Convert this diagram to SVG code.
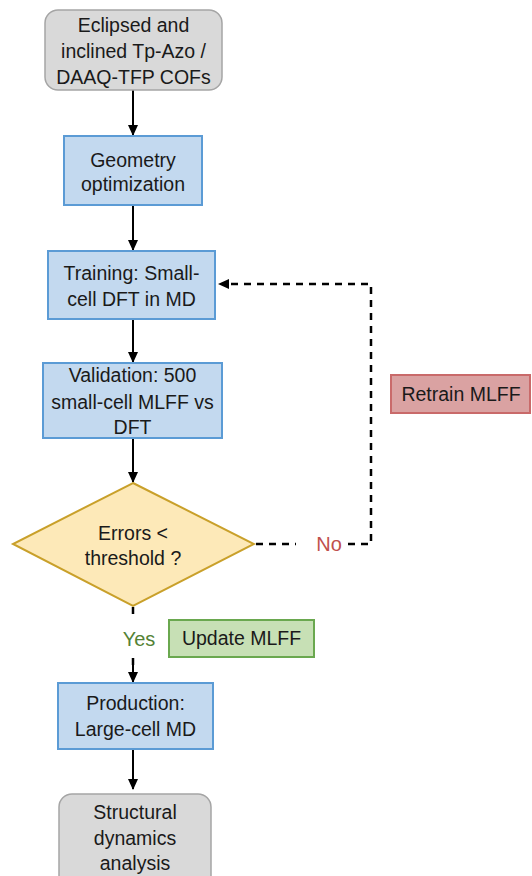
<svg xmlns="http://www.w3.org/2000/svg" width="532" height="876" viewBox="0 0 532 876">
<style>
text{font-family:"Liberation Sans","Open Sans",Arial,sans-serif;font-size:19.5px;fill:#1a1a1a;text-anchor:middle}
.gray{fill:#d9d9d9;stroke:#a5a5a5;stroke-width:1.5}
.blue{fill:#c3d9ef;stroke:#5b9bd5;stroke-width:2}
.dia{fill:#fde9b8;stroke:#c9a02a;stroke-width:2}
.red{fill:#daa2a2;stroke:#c96a6a;stroke-width:2}
.green{fill:#c7e0b5;stroke:#6aa84f;stroke-width:2}
.solid{stroke:#000;stroke-width:2;fill:none}
.dash{stroke:#000;stroke-width:2.5;fill:none;stroke-dasharray:7 6}
</style>
<defs>
<marker id="ah" markerWidth="11" markerHeight="10" refX="10" refY="5" orient="auto" markerUnits="userSpaceOnUse">
<path d="M0,0 L11,5 L0,10 z" fill="#000"/>
</marker>
</defs>
<rect width="532" height="876" fill="#fff"/>
<g id="connectors">
<line class="solid" x1="133" y1="90" x2="133" y2="135" marker-end="url(#ah)"/>
<line class="solid" x1="133" y1="205" x2="133" y2="250" marker-end="url(#ah)"/>
<line class="solid" x1="133" y1="319" x2="133" y2="362" marker-end="url(#ah)"/>
<line class="solid" x1="133" y1="438" x2="133" y2="482" marker-end="url(#ah)"/>
<polyline class="dash" points="256,544 296,544"/>
<polyline class="dash" points="348,544 371,544 371,284 226,284"/>
<path d="M218,284 L229,279 L229,289 z" fill="#000"/>
<line class="dash" x1="133" y1="607" x2="133" y2="620"/>
<line class="dash" x1="133" y1="658" x2="133" y2="669"/>
<line class="solid" x1="133" y1="665" x2="133" y2="682" marker-end="url(#ah)"/>
<line class="solid" x1="133" y1="749" x2="133" y2="789" marker-end="url(#ah)"/>
<text x="329" y="551" style="fill:#c0504d;font-size:20px">No</text>
<text x="139" y="646" style="fill:#548235;font-size:20px">Yes</text>
</g>
<g id="start">
<rect class="gray" x="45" y="10" width="177" height="80" rx="13"/>
<text x="133.5" y="32">Eclipsed and</text>
<text x="133.5" y="58">inclined Tp-Azo /</text>
<text x="133.5" y="84">DAAQ-TFP COFs</text>
</g>
<g id="geometry">
<rect class="blue" x="64" y="136" width="138" height="69"/>
<text x="133" y="167">Geometry</text>
<text x="133" y="191">optimization</text>
</g>
<g id="training">
<rect class="blue" x="48" y="251" width="167" height="68"/>
<text x="131.5" y="280">Training: Small-</text>
<text x="131.5" y="306">cell DFT in MD</text>
</g>
<g id="validation">
<rect class="blue" x="43" y="363" width="179" height="75"/>
<text x="132.5" y="382">Validation: 500</text>
<text x="132.5" y="409">small-cell MLFF vs</text>
<text x="132.5" y="434">DFT</text>
</g>
<g id="decision">
<polygon class="dia" points="133,483 254,544 133,606 13,544"/>
<text x="133" y="540">Errors &lt;</text>
<text x="133" y="565">threshold ?</text>
</g>
<g id="retrain">
<rect class="red" x="391" y="375" width="139" height="38"/>
<text x="461" y="401">Retrain MLFF</text>
</g>
<g id="update">
<rect class="green" x="169" y="620" width="145" height="37"/>
<text x="241.5" y="645">Update MLFF</text>
</g>
<g id="production">
<rect class="blue" x="58" y="683" width="155" height="66"/>
<text x="135.5" y="710">Production:</text>
<text x="135.5" y="736">Large-cell MD</text>
</g>
<g id="end">
<rect class="gray" x="59" y="794" width="152" height="100" rx="13"/>
<text x="135" y="819">Structural</text>
<text x="135" y="845">dynamics</text>
<text x="135" y="870">analysis</text>
</g>
</svg>
